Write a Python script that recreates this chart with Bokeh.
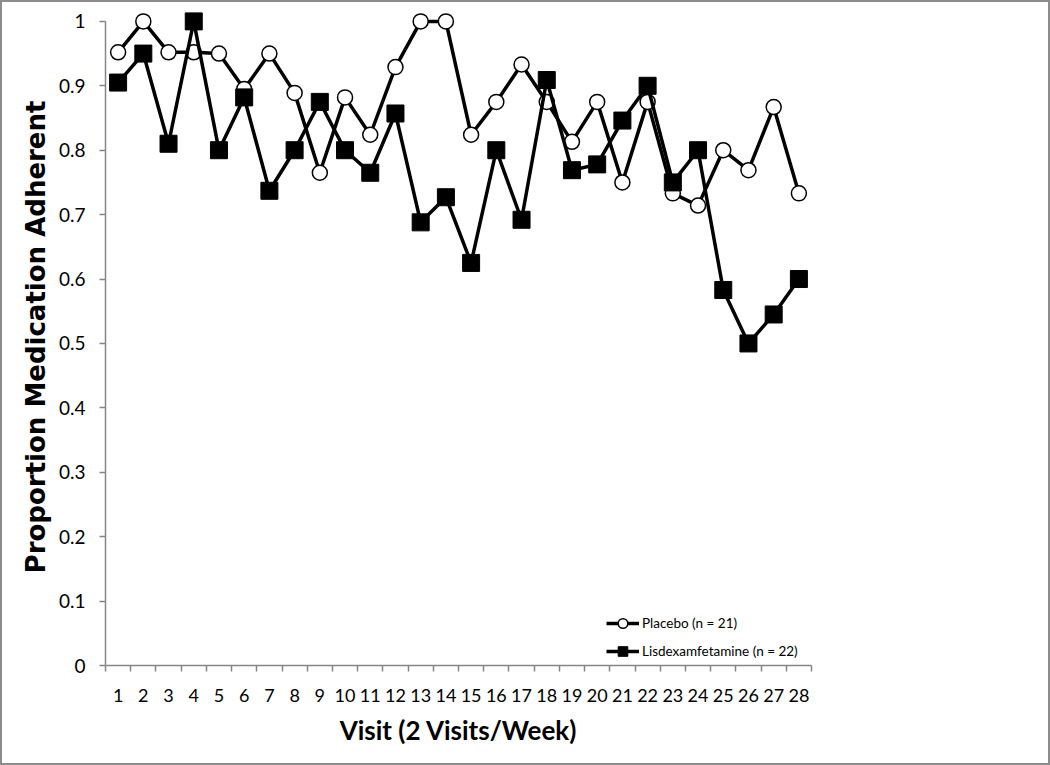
from bokeh.plotting import figure
from bokeh.models import FixedTicker, Legend, LegendItem
from bokeh.embed import file_html
from bokeh.resources import INLINE

# ---- data ----
visits = list(range(1, 29))
placebo = [0.952, 1.0, 0.952, 0.952, 0.95, 0.895, 0.95, 0.889, 0.765, 0.882,
           0.824, 0.929, 1.0, 1.0, 0.824, 0.875, 0.933, 0.875, 0.813, 0.875,
           0.75, 0.875, 0.733, 0.714, 0.8, 0.769, 0.867, 0.733]
lisdex = [0.905, 0.95, 0.81, 1.0, 0.8, 0.882, 0.737, 0.8, 0.875, 0.8,
          0.765, 0.857, 0.688, 0.727, 0.625, 0.8, 0.692, 0.909, 0.769, 0.778,
          0.846, 0.9, 0.75, 0.8, 0.583, 0.5, 0.545, 0.6]
y_ticks = [0, 0.1, 0.2, 0.3, 0.4, 0.5, 0.6, 0.7, 0.8, 0.9, 1]
y_labels = ["0", "0.1", "0.2", "0.3", "0.4", "0.5", "0.6", "0.7", "0.8", "0.9", "1"]
series_names = ["Placebo (n = 21)", "Lisdexamfetamine (n = 22)"]
x_title = "Visit (2 Visits/Week)"
y_title = "Proportion Medication Adherent"

FONT = "Lato"
AXIS_GRAY = "#868686"

p = figure(width=1050, height=765, output_backend="svg", toolbar_location=None,
           x_range=(0.5, 28.5), y_range=(0, 1.02),
           min_border_left=103, min_border_right=241, min_border_top=6, min_border_bottom=102)
p.styles = {"border": "2px solid #8c8c8c"}
p.outline_line_color = None
p.xgrid.visible = False
p.ygrid.visible = False

# series
l1 = p.line(visits, placebo, line_color="black", line_width=3.5)
s1 = p.scatter(visits, placebo, marker="circle", size=15, fill_color="white",
               line_color="black", line_width=1.5)
l2 = p.line(visits, lisdex, line_color="black", line_width=3.5)
s2 = p.scatter(visits, lisdex, marker="square", size=17, fill_color="black",
               line_color="black", line_width=1)

# x axis
xa = p.xaxis[0]
xa.ticker = FixedTicker(ticks=visits, minor_ticks=[v - 0.5 for v in visits] + [visits[-1] + 0.5])
xa.major_tick_line_color = None
xa.major_tick_out = 0
xa.major_tick_in = 0
xa.minor_tick_out = 6
xa.minor_tick_in = 0
xa.minor_tick_line_color = AXIS_GRAY
xa.minor_tick_line_width = 1.5
xa.axis_line_color = AXIS_GRAY
xa.axis_line_width = 1.5
xa.major_label_text_font = FONT
xa.major_label_text_font_size = "18px"
xa.major_label_text_color = "black"
xa.major_label_standoff = 17
xa.axis_label = x_title
xa.axis_label_text_font = FONT
xa.axis_label_text_font_style = "bold"
xa.axis_label_text_font_size = "26px"
xa.axis_label_text_color = "black"
xa.axis_label_standoff = 9

# y axis
ya = p.yaxis[0]
ya.ticker = FixedTicker(ticks=y_ticks)
ya.major_label_overrides = {t: lab for t, lab in zip(y_ticks, y_labels)}
ya.bounds = (0, 1)
ya.minor_tick_line_color = None
ya.major_tick_out = 6
ya.major_tick_in = 0
ya.major_tick_line_color = AXIS_GRAY
ya.major_tick_line_width = 1.5
ya.axis_line_color = AXIS_GRAY
ya.axis_line_width = 1.5
ya.major_label_text_font = FONT
ya.major_label_text_font_size = "19px"
ya.major_label_text_color = "black"
ya.major_label_standoff = 14
ya.axis_label = y_title
ya.axis_label_text_font = "DejaVu Sans"
ya.axis_label_text_font_style = "bold"
ya.axis_label_text_font_size = "26px"
ya.axis_label_text_color = "black"
ya.axis_label_standoff = 5

legend = Legend(items=[LegendItem(label=series_names[0], renderers=[l1, s1]),
                       LegendItem(label=series_names[1], renderers=[l2, s2])],
                location=(501, 2))
legend.background_fill_alpha = 0
legend.border_line_color = None
legend.padding = 2
legend.spacing = 4
legend.glyph_width = 33
legend.glyph_height = 24
legend.label_standoff = 3
legend.label_text_font = FONT
legend.label_text_font_size = "13.5px"
legend.label_text_color = "black"
legend.margin = 0
p.add_layout(legend)

open("out.html", "w").write(file_html(p, INLINE))
